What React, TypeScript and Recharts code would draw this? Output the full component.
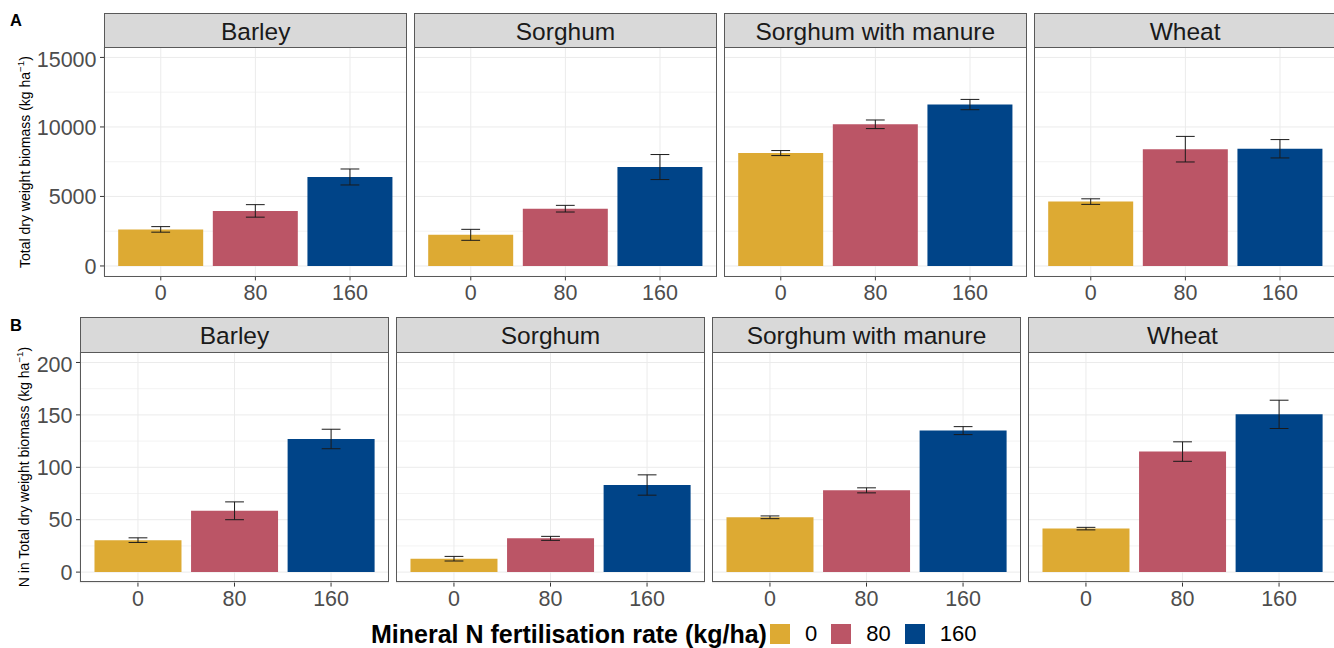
import React from "react";
import { BarChart, Bar, XAxis, YAxis, CartesianGrid, ErrorBar, Cell } from "recharts";

const rates = ["0", "80", "160"];
const crops = ["Barley", "Sorghum", "Sorghum with manure", "Wheat"];

// A: total dry weight biomass (kg/ha), means and error half-widths per crop
const biomassMean = [
  [2630, 3960, 6400],
  [2240, 4120, 7115],
  [8120, 10190, 11610],
  [4630, 8400, 8430],
];
const biomassErr = [
  [200, 450, 575],
  [395, 240, 900],
  [180, 310, 370],
  [200, 920, 660],
];
const biomassTicks = [0, 5000, 10000, 15000];
const biomassMinor = [2500, 7500, 12500];
const biomassDomain = [-750, 15750];

// B: N in total dry weight biomass (kg/ha)
const nMean = [
  [30.5, 58.5, 127],
  [12.8, 32.2, 83.1],
  [52.3, 78, 135],
  [41.5, 115, 150.5],
];
const nErr = [
  [2.2, 8.5, 9.3],
  [2.2, 1.9, 9.7],
  [1.3, 2.4, 3.8],
  [1.2, 9.3, 13.5],
];
const nTicks = [0, 50, 100, 150, 200];
const nMinor = [25, 75, 125, 175];
const nDomain = [-10, 210];

const rateColors = ["#DDAA33", "#BB5566", "#004488"];

const FONT = "'Liberation Sans', Arial, sans-serif";
const BORDER = "1px solid #595959";
const Y_W = 75;
const X_H = 40;

type PanelProps = {
  left: number;
  plotTop: number;
  plotH: number;
  stripTop: number;
  stripH: number;
  width: number;
  title: string;
  means: number[];
  errs: number[];
  domain: number[];
  ticks: number[];
  minor: number[];
  showY: boolean;
};

function Panel(p: PanelProps) {
  const data = rates.map((r, i) => ({ rate: r, value: p.means[i], err: p.errs[i] }));
  const yw = p.showY ? Y_W : 0;
  const pad = p.width / 32;
  return (
    <>
      <div
        style={{
          position: "absolute",
          left: p.left - yw,
          top: p.plotTop,
          width: p.width + yw,
          height: p.plotH + X_H,
        }}
      >
        <BarChart
          width={p.width + yw}
          height={p.plotH + X_H}
          data={data}
          margin={{ top: 0, right: 0, bottom: 0, left: 0 }}
          barCategoryGap="5%"
        >
          <CartesianGrid yAxisId="minor" vertical={false} stroke="#EBEBEB" strokeWidth={0.6} />
          <CartesianGrid yAxisId="main" stroke="#EBEBEB" strokeWidth={1} />
          <XAxis
            dataKey="rate"
            interval={0}
            height={X_H}
            padding={{ left: pad, right: pad }}
            axisLine={false}
            tickLine={{ stroke: "#333333" }}
            tickSize={4}
            tickMargin={4}
            tick={{ fill: "#4D4D4D", fontSize: 21.5 }}
          />
          <YAxis
            yAxisId="main"
            type="number"
            domain={p.domain}
            ticks={p.ticks}
            allowDataOverflow
            hide={!p.showY}
            width={yw}
            axisLine={false}
            tickLine={{ stroke: "#333333" }}
            tickSize={4}
            tickMargin={3.5}
            tick={{ fill: "#4D4D4D", fontSize: 21.5 }}
          />
          <YAxis yAxisId="minor" type="number" domain={p.domain} ticks={p.minor} allowDataOverflow hide />
          <Bar yAxisId="main" dataKey="value" isAnimationActive={false}>
            {data.map((d, i) => (
              <Cell key={d.rate} fill={rateColors[i]} />
            ))}
            <ErrorBar dataKey="err" direction="y" width={9.4} stroke="#1A1A1A" strokeWidth={1} isAnimationActive={false} />
          </Bar>
        </BarChart>
      </div>
      <div
        style={{
          position: "absolute",
          left: p.left,
          top: p.plotTop,
          width: p.width,
          height: p.plotH,
          border: BORDER,
          boxSizing: "border-box",
          pointerEvents: "none",
        }}
      />
      <div
        style={{
          position: "absolute",
          left: p.left,
          top: p.stripTop,
          width: p.width,
          height: p.stripH + 1,
          background: "#D9D9D9",
          border: BORDER,
          boxSizing: "border-box",
          display: "flex",
          alignItems: "center",
          justifyContent: "center",
          fontSize: 24.5,
          color: "#1A1A1A",
          paddingTop: 2,
        }}
      >
        {p.title}
      </div>
    </>
  );
}

const topLefts = [104.3, 414.1, 723.9, 1033.7];
const bottomLefts = [80, 396, 712, 1028];

export default function App() {
  return (
    <div
      style={{
        position: "absolute",
        left: 0,
        top: 0,
        width: 1334,
        height: 648,
        overflow: "hidden",
        background: "#fff",
        fontFamily: FONT,
      }}
    >
      <div style={{ position: "absolute", left: 10, top: 12, fontSize: 16.5, fontWeight: "bold", lineHeight: 1 }}>A</div>
      <div style={{ position: "absolute", left: 10, top: 317, fontSize: 16.5, fontWeight: "bold", lineHeight: 1 }}>B</div>

      <div
        style={{
          position: "absolute",
          left: 24.5,
          top: 162,
          transform: "translate(-50%, -50%) rotate(-90deg)",
          whiteSpace: "nowrap",
          fontSize: 14,
          color: "#000",
        }}
      >
        Total dry weight biomass (kg ha<sup style={{ fontSize: "0.7em", lineHeight: 0 }}>−1</sup>)
      </div>
      <div
        style={{
          position: "absolute",
          left: 24,
          top: 467,
          transform: "translate(-50%, -50%) rotate(-90deg)",
          whiteSpace: "nowrap",
          fontSize: 14,
          color: "#000",
        }}
      >
        N in Total dry weight biomass (kg ha<sup style={{ fontSize: "0.7em", lineHeight: 0 }}>−1</sup>)
      </div>

      {crops.map((c, i) => (
        <Panel
          key={"a" + c}
          left={topLefts[i]}
          plotTop={47.3}
          plotH={229.4}
          stripTop={13.3}
          stripH={34}
          width={302.8}
          title={c}
          means={biomassMean[i]}
          errs={biomassErr[i]}
          domain={biomassDomain}
          ticks={biomassTicks}
          minor={biomassMinor}
          showY={i === 0}
        />
      ))}
      {crops.map((c, i) => (
        <Panel
          key={"b" + c}
          left={bottomLefts[i]}
          plotTop={351.7}
          plotH={230.6}
          stripTop={317.3}
          stripH={34.4}
          width={309}
          title={c}
          means={nMean[i]}
          errs={nErr[i]}
          domain={nDomain}
          ticks={nTicks}
          minor={nMinor}
          showY={i === 0}
        />
      ))}

      <div
        style={{
          position: "absolute",
          left: 371,
          top: 621,
          height: 26,
          display: "flex",
          alignItems: "center",
          whiteSpace: "nowrap",
        }}
      >
        <span style={{ fontSize: 25, fontWeight: "bold", color: "#000", marginRight: 3 }}>
          Mineral N fertilisation rate (kg/ha)
        </span>
        {rates.map((r, i) => (
          <React.Fragment key={r}>
            <span style={{ display: "inline-block", width: 20, height: 20, background: rateColors[i], marginRight: 15 }} />
            <span style={{ fontSize: 22, color: "#000", marginRight: 14 }}>{r}</span>
          </React.Fragment>
        ))}
      </div>
    </div>
  );
}
